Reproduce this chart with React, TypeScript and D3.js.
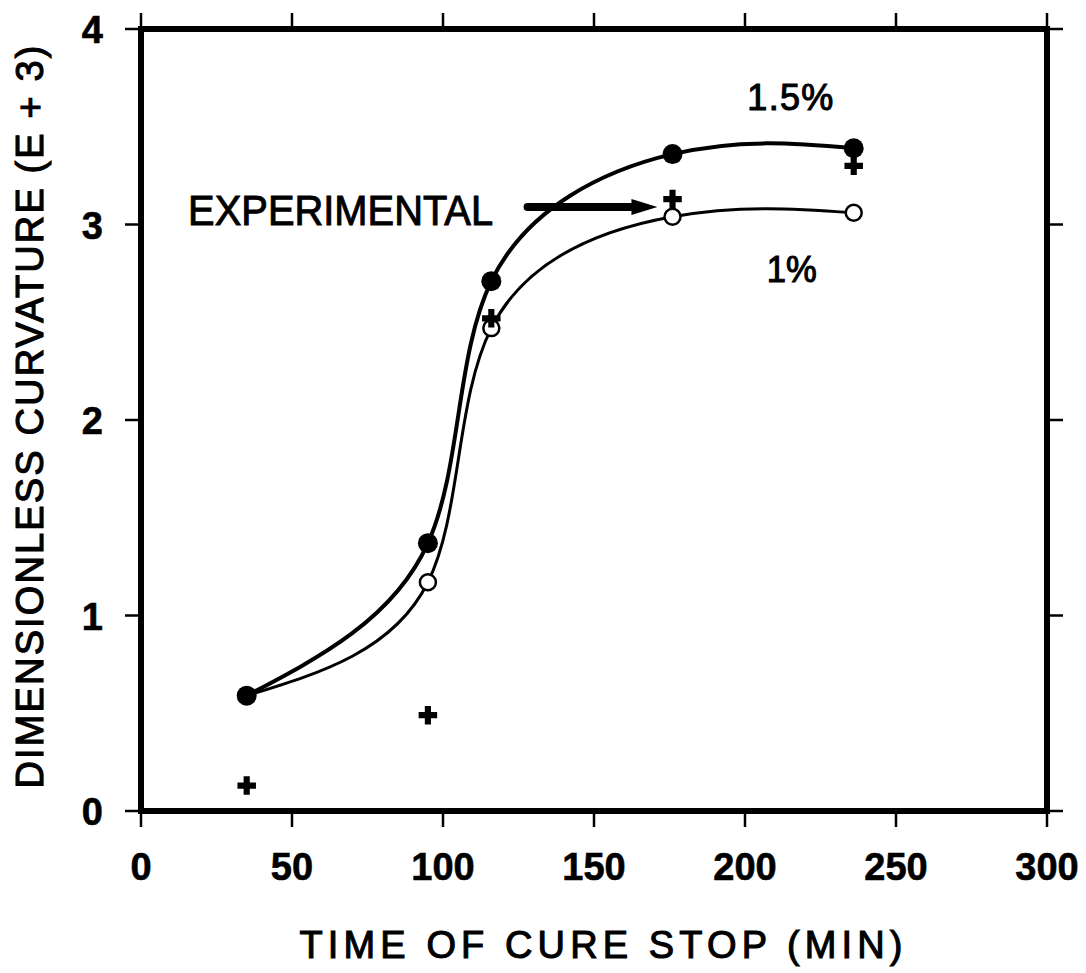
import React, { useRef, useEffect } from 'react';
import * as d3 from 'd3';

// cure stop times (min) and curvature values
const cureTimes = [35, 95, 116, 176, 236];
const curvature15 = [0.59, 1.37, 2.71, 3.36, 3.39];
const curvature10 = [0.59, 1.17, 2.47, 3.04, 3.06];
const experimental = [0.13, 0.49, 2.52, 3.13, 3.3];

const xTicks = [0, 50, 100, 150, 200, 250, 300];
const yTicks = [0, 1, 2, 3, 4];

const xTitle = 'TIME  OF  CURE  STOP  (MIN)';
const yTitle = 'DIMENSIONLESS  CURVATURE  (E + 3)';

interface Pt {
  x: number;
  y: number;
}

const W = 1086;
const H = 973;

export default function App() {
  const svgRef = useRef<SVGSVGElement>(null);

  useEffect(() => {
    if (!svgRef.current) return;
    const svg = d3.select(svgRef.current);
    svg.selectAll('*').remove();

    const x = d3.scaleLinear().domain([0, 300]).range([141, 1047]);
    const y = d3.scaleLinear().domain([0, 4]).range([811, 29]);

    const s15: Pt[] = cureTimes.map((t, i) => ({ x: t, y: curvature15[i] }));
    const s10: Pt[] = cureTimes.map((t, i) => ({ x: t, y: curvature10[i] }));
    const exp: Pt[] = cureTimes.map((t, i) => ({ x: t, y: experimental[i] }));

    const line = d3.line<Pt>()
      .x(d => x(d.x))
      .y(d => y(d.y))
      .curve(d3.curveNatural);

    const g = svg.append('g');
    const font = 'Liberation Sans, Arial, Helvetica, sans-serif';

    // ticks, outward on all four sides
    const tickLen = 16;
    xTicks.forEach(t => {
      g.append('line').attr('x1', x(t)).attr('x2', x(t))
        .attr('y1', y(0)).attr('y2', y(0) + tickLen)
        .attr('stroke', '#000').attr('stroke-width', 2.5);
      g.append('line').attr('x1', x(t)).attr('x2', x(t))
        .attr('y1', y(4)).attr('y2', y(4) - tickLen)
        .attr('stroke', '#000').attr('stroke-width', 2.5);
      g.append('text')
        .attr('x', x(t)).attr('y', y(0) + 69)
        .attr('text-anchor', 'middle')
        .attr('font-family', font)
        .attr('font-weight', 'bold')
        .attr('font-size', 38)
        .attr('stroke', '#000').attr('stroke-width', 0.6)
        .text(t);
    });
    yTicks.forEach(t => {
      g.append('line').attr('x1', x(0)).attr('x2', x(0) - tickLen)
        .attr('y1', y(t)).attr('y2', y(t))
        .attr('stroke', '#000').attr('stroke-width', 2.5);
      g.append('line').attr('x1', x(300)).attr('x2', x(300) + tickLen)
        .attr('y1', y(t)).attr('y2', y(t))
        .attr('stroke', '#000').attr('stroke-width', 2.5);
      g.append('text')
        .attr('x', 103).attr('y', y(t) + 14)
        .attr('text-anchor', 'end')
        .attr('font-family', font)
        .attr('font-weight', 'bold')
        .attr('font-size', 38)
        .attr('stroke', '#000').attr('stroke-width', 0.6)
        .text(t);
    });

    // frame
    g.append('rect')
      .attr('x', x(0)).attr('y', y(4))
      .attr('width', x(300) - x(0)).attr('height', y(0) - y(4))
      .attr('fill', 'none').attr('stroke', '#000').attr('stroke-width', 6);

    // curves
    g.append('path').datum(s15)
      .attr('d', line).attr('fill', 'none')
      .attr('stroke', '#000').attr('stroke-width', 4);
    g.append('path').datum(s10)
      .attr('d', line).attr('fill', 'none')
      .attr('stroke', '#000').attr('stroke-width', 3);

    // markers
    g.selectAll('.open').data(s10).enter().append('circle')
      .attr('cx', d => x(d.x)).attr('cy', d => y(d.y))
      .attr('r', 8).attr('fill', '#fff')
      .attr('stroke', '#000').attr('stroke-width', 2.5);
    g.selectAll('.filled').data(s15).enter().append('circle')
      .attr('cx', d => x(d.x)).attr('cy', d => y(d.y))
      .attr('r', 10).attr('fill', '#000');
    const cross = d3.symbol().type(d3.symbolCross).size(190);
    g.selectAll('.plus').data(exp).enter().append('path')
      .attr('d', cross)
      .attr('transform', d => `translate(${x(d.x)},${y(d.y)})`)
      .attr('fill', '#000');

    // annotations
    g.append('text')
      .attr('x', x(15.6)).attr('y', y(3.0))
      .attr('font-family', font).attr('font-size', 43)
      .attr('stroke', '#000').attr('stroke-width', 1)
      .attr('textLength', 305).attr('lengthAdjust', 'spacingAndGlyphs')
      .text('EXPERIMENTAL');

    const ax0 = x(128), ax1 = x(171), ay = y(3.09);
    g.append('line')
      .attr('x1', ax0).attr('x2', ax1 - 18)
      .attr('y1', ay).attr('y2', ay)
      .attr('stroke', '#000').attr('stroke-width', 8)
      .attr('stroke-linecap', 'round');
    g.append('path')
      .attr('d', `M${ax1},${ay} L${ax1 - 26},${ay - 8} L${ax1 - 26},${ay + 8} Z`)
      .attr('fill', '#000');

    g.append('text')
      .attr('x', x(215)).attr('y', y(3.585))
      .attr('text-anchor', 'middle')
      .attr('font-family', font).attr('font-size', 36)
      .attr('stroke', '#000').attr('stroke-width', 1.1)
      .attr('textLength', 86).attr('lengthAdjust', 'spacing')
      .text('1.5%');
    g.append('text')
      .attr('x', x(215.5)).attr('y', y(2.706))
      .attr('text-anchor', 'middle')
      .attr('font-family', font).attr('font-size', 36)
      .attr('stroke', '#000').attr('stroke-width', 1.1)
      .attr('textLength', 50).attr('lengthAdjust', 'spacingAndGlyphs')
      .text('1%');

    // axis titles
    g.append('text')
      .attr('x', 601).attr('y', 958)
      .attr('text-anchor', 'middle')
      .attr('font-family', font).attr('font-size', 38)
      .attr('stroke', '#000').attr('stroke-width', 1.1)
      .attr('textLength', 603).attr('lengthAdjust', 'spacing')
      .text(xTitle);
    g.append('text')
      .attr('transform', `translate(43,417) rotate(-90)`)
      .attr('text-anchor', 'middle')
      .attr('font-family', font).attr('font-size', 38)
      .attr('stroke', '#000').attr('stroke-width', 1.1)
      .attr('textLength', 743).attr('lengthAdjust', 'spacing')
      .text(yTitle);
  }, []);

  return (
    <svg
      ref={svgRef}
      width={W}
      height={H}
      style={{ position: 'absolute', left: 0, top: 0, background: '#fff' }}
    />
  );
}
